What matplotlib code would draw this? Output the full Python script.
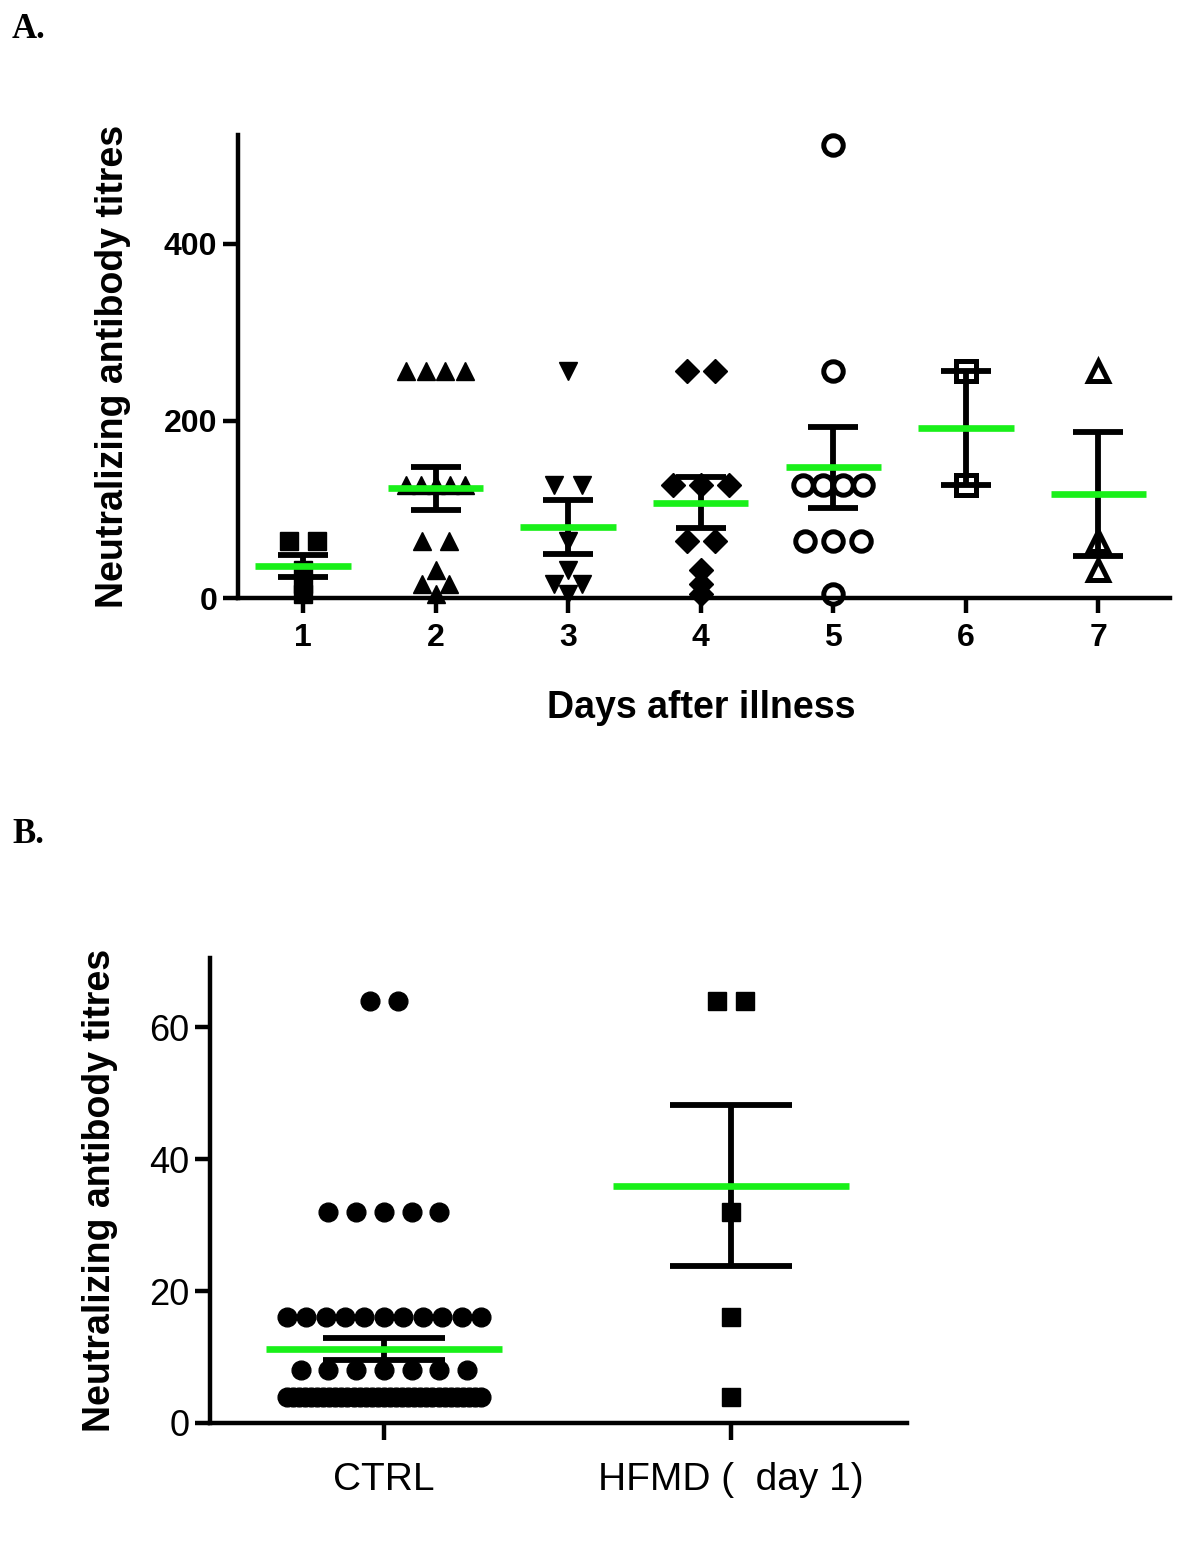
import numpy as np
import matplotlib
matplotlib.use("Agg")
import matplotlib.pyplot as plt

plt.rcParams['font.family'] = ['Liberation Sans', 'DejaVu Sans']

# --- data: panel A, titres per day after illness ---
days = [1, 2, 3, 4, 5, 6, 7]
day1 = [64, 64, 32, 16, 4]
day2 = [256, 256, 256, 256, 128, 128, 128, 128, 128, 64, 64, 32, 16, 16, 4]
day3 = [256, 128, 128, 64, 32, 16, 16, 4]
day4 = [256, 256, 128, 128, 128, 64, 64, 32, 16, 4]
day5 = [512, 256, 128, 128, 128, 128, 64, 64, 64, 4]
day6 = [256, 128]
day7 = [256, 64, 32]
groups_a = [day1, day2, day3, day4, day5, day6, day7]

# --- data: panel B ---
b_labels = ["CTRL", "HFMD (  day 1)"]
ctrl = [64, 64,
        32, 32, 32, 32, 32,
        16, 16, 16, 16, 16, 16, 16, 16, 16, 16, 16,
        8, 8, 8, 8, 8, 8, 8,
        4, 4, 4, 4, 4, 4, 4, 4, 4, 4, 4, 4, 4, 4, 4, 4, 4,
        4, 4, 4, 4, 4, 4, 4, 4, 4, 4, 4, 4, 4, 4, 4, 4]
hfmd = [64, 64, 32, 16, 4]
groups_b = [ctrl, hfmd]

GREEN = "#19f019"

# marker style per day (marker, filled?, size)
styles_a = [("s", True, 13.5), ("^", True, 13), ("v", True, 13), ("D", True, 12.5),
            ("o", False, 14), ("s", False, 14), ("^", False, 15)]


def spread(vals, center, step, max_span):
    # lay out points of equal value side by side around the group centre
    vals = np.asarray(vals)
    xs = np.zeros(len(vals))
    for v in np.unique(vals):
        idx = np.where(vals == v)[0]
        n = len(idx)
        st = step if n < 2 else min(step, max_span / (n - 1))
        xs[idx] = center + (np.arange(n) - (n - 1) / 2.0) * st
    return xs


def style_axes(ax, lw=3.2):
    for s in ["top", "right"]:
        ax.spines[s].set_visible(False)
    for s in ["left", "bottom"]:
        ax.spines[s].set_linewidth(lw)
    ax.tick_params(direction="out", length=11, width=lw)


fig = plt.figure(figsize=(12, 15.57), dpi=100)

# ---------------- Panel A ----------------
axA = fig.add_axes([238 / 1200, 1 - 598 / 1557, 932 / 1200, 463 / 1557])
style_axes(axA)
for d, vals, (mk, filled, ms) in zip(days, groups_a, styles_a):
    xs = spread(vals, d, 0.21, 0.45)
    if filled:
        axA.plot(xs, vals, linestyle="none", marker=mk, markersize=ms,
                 color="black", zorder=2, clip_on=False)
    else:
        axA.plot(xs, vals, linestyle="none", marker=mk, markersize=ms,
                 markerfacecolor="white", markeredgecolor="black",
                 markeredgewidth=3.6, zorder=2, clip_on=False)
    m = np.mean(vals)
    sem = np.std(vals, ddof=1) / np.sqrt(len(vals))
    axA.errorbar([d], [m], yerr=[sem], fmt="none", ecolor="black",
                 elinewidth=4.2, capsize=18, capthick=4.2, zorder=3)
    axA.hlines(m, d - 0.36, d + 0.36, color=GREEN, linewidth=4.8, zorder=4)

axA.set_xlim(0.51, 7.54)
axA.set_ylim(0, 523)
axA.set_xticks(days)
axA.set_yticks([0, 200, 400])
axA.tick_params(axis="x", pad=7)
axA.tick_params(axis="y", pad=4)
for lab in axA.get_xticklabels() + axA.get_yticklabels():
    lab.set_fontsize(23)
    lab.set_fontweight("bold")
axA.set_ylabel("Neutralizing antibody titres", fontsize=27, fontweight="bold")
axA.yaxis.set_label_coords((131 - 238) / 932, 0.5)
axA.set_xlabel("Days after illness", fontsize=27, fontweight="bold")
axA.xaxis.set_label_coords((701 - 238) / 932, (598 - 690) / 463)

# ---------------- Panel B ----------------
axB = fig.add_axes([210 / 1200, 1 - 1423 / 1557, 697 / 1200, 465 / 1557])
style_axes(axB)
b_markers = ["o", "s"]
for i, vals in enumerate(groups_b):
    xs = spread(vals, i, 0.08, 0.56)
    axB.plot(xs, vals, linestyle="none", marker=b_markers[i], markersize=13.5,
             color="black", zorder=2, clip_on=False)
    m = np.mean(vals)
    sem = np.std(vals, ddof=1) / np.sqrt(len(vals))
    axB.errorbar([i], [m], yerr=[sem], fmt="none", ecolor="black",
                 elinewidth=4.2, capsize=44, capthick=4.2, zorder=3)
    axB.hlines(m, i - 0.34, i + 0.34, color=GREEN, linewidth=4.8, zorder=4)

axB.set_xlim(-0.501, 1.507)
axB.set_ylim(0, 70.5)
axB.set_xticks([0, 1])
axB.set_xticklabels(b_labels)
axB.set_yticks([0, 20, 40, 60])
axB.tick_params(axis="x", length=12, pad=16, labelsize=28)
axB.tick_params(axis="y", pad=4, labelsize=26)
axB.set_ylabel("Neutralizing antibody titres", fontsize=27, fontweight="bold")
axB.yaxis.set_label_coords((118 - 210) / 697, 0.5)

# panel letters
fig.text(12 / 1200, 1 - 30 / 1557, "A.", family="Liberation Serif", fontweight="bold",
         fontsize=25, va="center", ha="left")
fig.text(12 / 1200, 1 - 835 / 1557, "B.", family="Liberation Serif", fontweight="bold",
         fontsize=25, va="center", ha="left")

fig.savefig("out.png", dpi=100)
